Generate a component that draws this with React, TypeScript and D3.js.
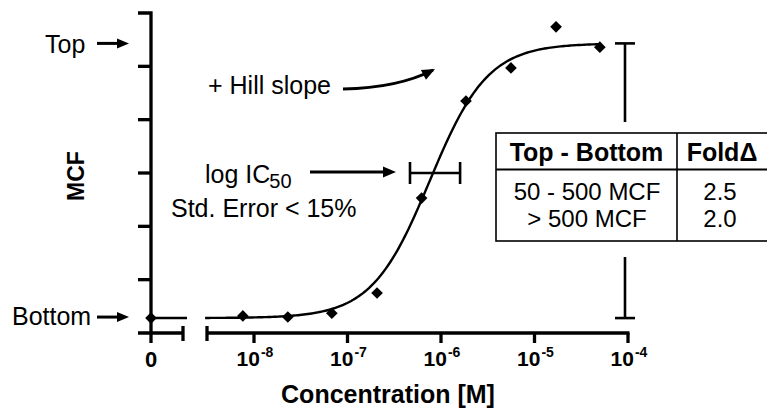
import React from 'react';
import * as d3 from 'd3';

// ---- data ----
const concentrations = [7.6e-9, 2.3e-8, 6.8e-8, 2.07e-7, 6.2e-7, 1.85e-6, 5.6e-6, 1.7e-5, 5.0e-5];
const mcfValues = [32, 30, 37, 75, 253, 435, 497, 574, 536];
const zeroConcentrationValue = 28;
const xTickExponents = [-8, -7, -6, -5, -4];
const yTickValues = [0, 100, 200, 300, 400, 500, 600];
// Hill fit parameters
const fitBottom = 28;
const fitTop = 543;
const fitLogIC50 = -6.12;
const fitHill = 1.4;
const curveStart = 3e-9;
const curveEnd = 5e-5;
// IC50 standard-error bar
const ic50Low = 4.66e-7;
const ic50High = 1.6e-6;
const ic50BarLevel = 300;
// table
const tableHeader = ['Top - Bottom', 'Fold\u0394'];
const tableRows = [
  ['50 - 500 MCF', '2.5'],
  ['> 500 MCF', '2.0'],
];

const W = 767;
const H = 411;
const FONT = "'Liberation Sans', Arial, Helvetica, sans-serif";

function hill(c: number) {
  const r = Math.pow(10, fitHill * (Math.log10(c) - fitLogIC50));
  return fitBottom + (fitTop - fitBottom) * (r / (1 + r));
}

function arrowHead(x1: number, y1: number, x2: number, y2: number, len: number, half: number) {
  const a = Math.atan2(y2 - y1, x2 - x1);
  const bx = x2 - len * Math.cos(a);
  const by = y2 - len * Math.sin(a);
  const px = -Math.sin(a) * half;
  const py = Math.cos(a) * half;
  return `M${x2},${y2}L${bx + px},${by + py}L${bx - px},${by - py}Z`;
}

export default function App() {
  const x = d3.scaleLog().domain([1e-8, 1e-4]).range([254, 628]);
  const xZero = 151;
  const y = d3.scaleLinear().domain([0, 600]).range([333, 13]);
  const axisY = y(0);
  const leftAxisStart = 138;
  const leftSegEnd = 183;
  const rightSegStart = 207;

  const curvePts: [number, number][] = d3
    .range(0, 201)
    .map((i) => {
      const lc = Math.log10(curveStart) + (i / 200) * (Math.log10(curveEnd) - Math.log10(curveStart));
      const c = Math.pow(10, lc);
      return [x(c), y(hill(c))];
    });
  const line = d3.line().curve(d3.curveLinear);
  const curvePath = line(curvePts) || '';

  const diamond = d3.symbol().type(d3.symbolSquare).size(68)() || '';

  const topY = y(fitTop);
  const botY = y(fitBottom);
  const ebX = 625;

  const ic50Y = y(ic50BarLevel);

  // table geometry
  const tX = 496, tY = 133, tW = 280, tH = 108, headH = 36.5, colX = 677;

  const hillArrowPath = 'M343,89 Q398,88 433,70';

  return (
    <svg
      width={W}
      height={H}
      style={{ position: 'absolute', left: 0, top: 0, background: '#fff' }}
      fontFamily={FONT}
    >
      <rect x={0} y={0} width={W} height={H} fill="#fff" />

      {/* Y axis */}
      <path d={`M${leftAxisStart},${y(600)}H${xZero}V${axisY + 10}`} fill="none" stroke="#000" strokeWidth={3.3} />
      {yTickValues.slice(1, -1).map((v) => (
        <line key={v} x1={leftAxisStart} x2={xZero} y1={y(v)} y2={y(v)} stroke="#000" strokeWidth={3.3} />
      ))}

      {/* X axis left segment (zero) */}
      <line x1={leftAxisStart} x2={leftSegEnd} y1={axisY} y2={axisY} stroke="#000" strokeWidth={3.3} />
      <line x1={leftSegEnd} x2={leftSegEnd} y1={axisY - 7} y2={axisY + 8} stroke="#000" strokeWidth={3.3} />
      <text x={xZero} y={367} textAnchor="middle" fontSize={22} fontWeight="bold">0</text>

      {/* X axis right segment (log) */}
      <line x1={rightSegStart} x2={x(1e-4) + 1.5} y1={axisY} y2={axisY} stroke="#000" strokeWidth={3.3} />
      <line x1={rightSegStart} x2={rightSegStart} y1={axisY - 7} y2={axisY + 8} stroke="#000" strokeWidth={3.3} />
      {xTickExponents.map((e) => (
        <g key={e}>
          <line x1={x(Math.pow(10, e))} x2={x(Math.pow(10, e))} y1={axisY} y2={axisY + 10} stroke="#000" strokeWidth={3.3} />
          <text x={x(Math.pow(10, e)) + 1} y={366} textAnchor="middle" fontSize={21} fontWeight="bold">
            <tspan>10</tspan>
            <tspan dx={1} dy={-9} fontSize={14}>{`-${Math.abs(e)}`}</tspan>
          </text>
        </g>
      ))}

      {/* Axis titles */}
      <text x={388} y={403} textAnchor="middle" fontSize={25} fontWeight="bold">Concentration [M]</text>
      <text transform="translate(84,176) rotate(-90)" textAnchor="middle" fontSize={23} fontWeight="bold">MCF</text>

      {/* Fitted curve */}
      <line x1={xZero} x2={leftSegEnd + 4} y1={botY} y2={botY} stroke="#000" strokeWidth={2.4} />
      <path d={curvePath} fill="none" stroke="#000" strokeWidth={2.4} />

      {/* Data points */}
      <path d={diamond} transform={`translate(${xZero},${y(zeroConcentrationValue)}) rotate(45)`} fill="#000" />
      {concentrations.map((c, i) => (
        <path key={i} d={diamond} transform={`translate(${x(c)},${y(mcfValues[i])}) rotate(45)`} fill="#000" />
      ))}

      {/* IC50 error bar */}
      <g stroke="#000" strokeWidth={2.6}>
        <line x1={x(ic50Low)} x2={x(ic50High)} y1={ic50Y} y2={ic50Y} />
        <line x1={x(ic50Low)} x2={x(ic50Low)} y1={ic50Y - 11} y2={ic50Y + 11} />
        <line x1={x(ic50High)} x2={x(ic50High)} y1={ic50Y - 11} y2={ic50Y + 11} />
      </g>

      {/* Top-Bottom span bar */}
      <g stroke="#000" strokeWidth={2.6}>
        <line x1={ebX} x2={ebX} y1={topY} y2={botY} />
        <line x1={ebX - 10} x2={ebX + 10} y1={topY} y2={topY} />
        <line x1={ebX - 10} x2={ebX + 10} y1={botY} y2={botY} />
      </g>

      {/* Table */}
      <rect x={tX - 8} y={tY - 11} width={tW + 20} height={tH + 27} fill="#fff" />
      <rect x={tX} y={tY} width={tW} height={tH} fill="#fff" stroke="#000" strokeWidth={1.6} />
      <line x1={tX} x2={tX + tW} y1={tY + headH} y2={tY + headH} stroke="#000" strokeWidth={2.2} />
      <line x1={colX} x2={colX} y1={tY} y2={tY + tH} stroke="#000" strokeWidth={1.6} />
      <text x={(tX + colX) / 2} y={161} textAnchor="middle" fontSize={25} fontWeight="bold">{tableHeader[0]}</text>
      <text x={722} y={161} textAnchor="middle" fontSize={25} fontWeight="bold">{tableHeader[1]}</text>
      {tableRows.map((row, i) => (
        <g key={i}>
          <text x={587} y={200 + i * 27} textAnchor="middle" fontSize={24}>{row[0]}</text>
          <text x={720} y={200 + i * 27} textAnchor="middle" fontSize={24}>{row[1]}</text>
        </g>
      ))}

      {/* Annotations */}
      <text x={45} y={53} fontSize={25}>Top</text>
      <line x1={97} x2={120} y1={topY} y2={topY} stroke="#000" strokeWidth={3} />
      <path d={arrowHead(97, topY, 129, topY, 12, 5)} fill="#000" />

      <text x={12} y={325} fontSize={25}>Bottom</text>
      <line x1={97} x2={120} y1={botY - 1} y2={botY - 1} stroke="#000" strokeWidth={3} />
      <path d={arrowHead(97, botY - 1, 129, botY - 1, 12, 5)} fill="#000" />

      <text x={208} y={94} fontSize={25}>+ Hill slope</text>
      <path d={hillArrowPath} fill="none" stroke="#000" strokeWidth={3} />
      <path d={arrowHead(398, 88, 435, 69, 13, 5.5)} fill="#000" />

      <text x={205} y={183} fontSize={25}>
        <tspan>log IC</tspan>
        <tspan dx={-1} dy={5} fontSize={20}>50</tspan>
      </text>
      <text x={171} y={217} fontSize={25}>Std. Error &lt; 15%</text>
      <line x1={310} x2={385} y1={172} y2={172} stroke="#000" strokeWidth={3} />
      <path d={arrowHead(310, 172, 396, 172, 13, 5.5)} fill="#000" />
    </svg>
  );
}
